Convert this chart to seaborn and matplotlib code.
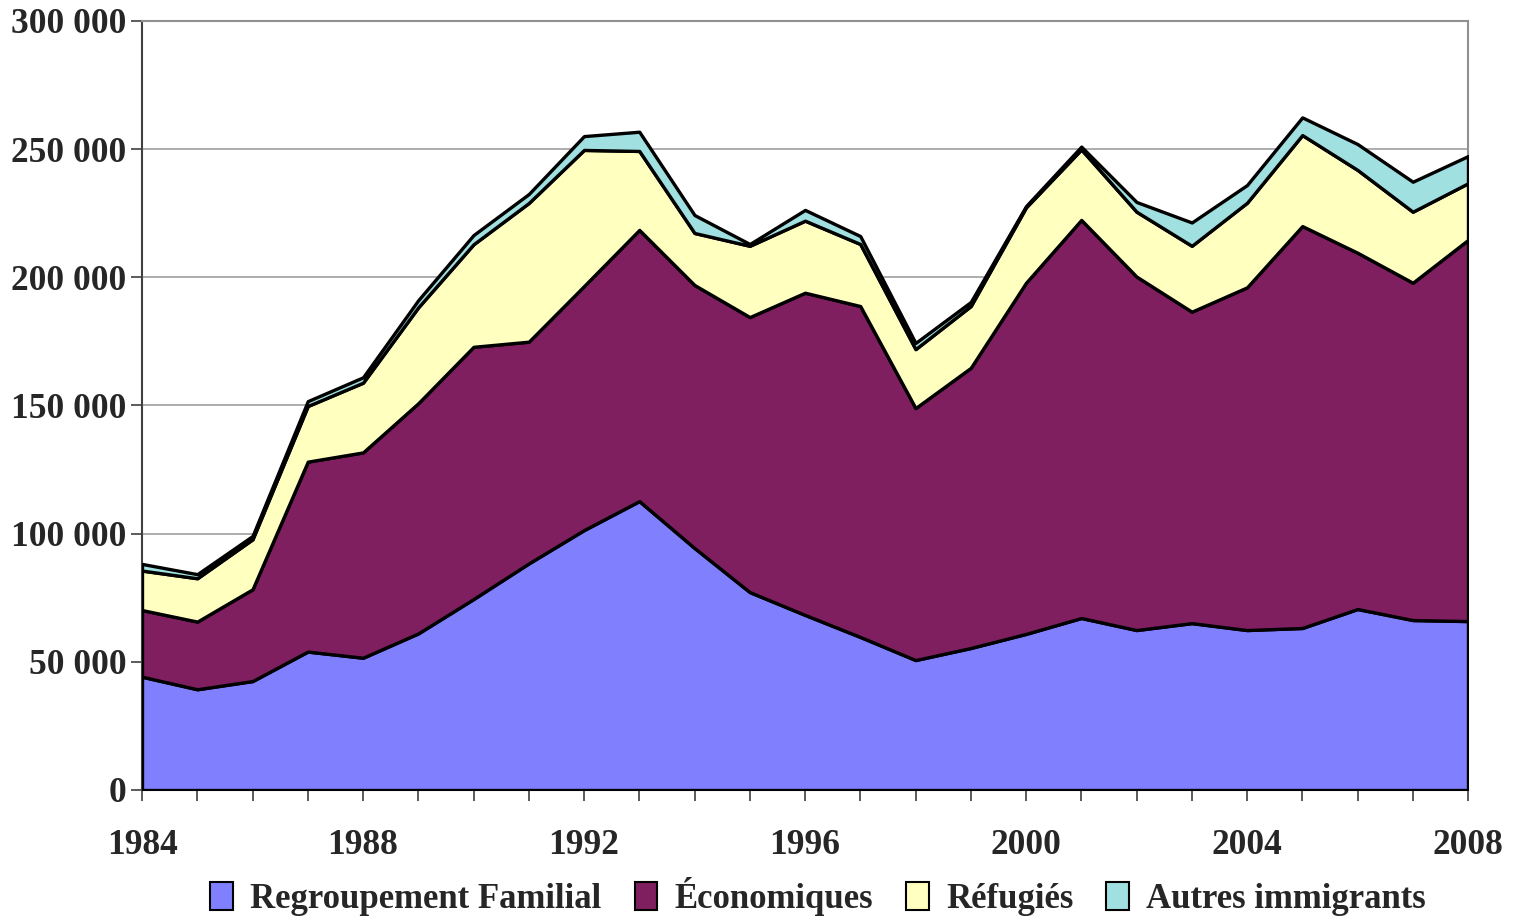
import matplotlib
matplotlib.use("Agg")
import matplotlib.pyplot as plt
import seaborn as sns
import numpy as np
from matplotlib.ticker import FuncFormatter, MultipleLocator
from matplotlib.patches import Patch

years = list(range(1984, 2009))
familial = [44200, 39300, 42500, 54000, 51600, 61100, 74500, 88400, 101400, 112700,
            94400, 77200, 68300, 59700, 50700, 55400, 60900, 67100, 62400, 65100,
            62400, 63200, 70600, 66300, 65900]
economiques = [26000, 26400, 35800, 74100, 80100, 89800, 98400, 86500, 95200, 105800,
               102600, 107300, 125700, 129100, 98300, 109300, 137000, 155300, 137900, 121500,
               133700, 156800, 139000, 131600, 148700]
refugies = [15400, 16900, 19500, 21700, 27200, 37400, 40000, 54100, 53100, 30800,
            20300, 27800, 28100, 24200, 23000, 24100, 29400, 27500, 25300, 25700,
            33000, 35500, 32300, 27700, 22100]
autres = [2600, 1600, 1300, 1900, 2100, 2800, 3600, 3500, 5400, 7500,
          7000, 700, 4200, 3100, 2400, 1600, 500, 1100, 3800, 9100,
          6900, 6900, 10100, 11700, 10600]
labels = ["Regroupement Familial", "Économiques", "Réfugiés", "Autres immigrants"]
colors = ["#8080FF", "#7F1F5F", "#FFFFC0", "#A0E0E0"]
xtick_labels = [1984, 1988, 1992, 1996, 2000, 2004, 2008]

sns.set_theme(style="white")
plt.rcParams['font.family'] = ['Liberation Serif', 'DejaVu Serif']
plt.rcParams['font.weight'] = 'bold'

fig = plt.figure(figsize=(15.18, 9.16), dpi=100)
ax = fig.add_axes([142/1518, 1-790/916, (1468-142)/1518, (790-21)/916])

ax.stackplot(years, familial, economiques, refugies, autres, colors=colors,
             edgecolor="black", linewidth=2.4, labels=labels, zorder=3)

ax.set_xlim(1984, 2008)
ax.set_ylim(0, 300000)
ax.yaxis.set_major_locator(MultipleLocator(50000))
ax.yaxis.set_major_formatter(FuncFormatter(lambda v, p: f"{int(v):,}".replace(",", " ")))
ax.set_xticks(years, minor=True)
ax.set_xticks(xtick_labels)
ax.set_xticklabels([str(y) for y in xtick_labels])
ax.grid(axis="y", color="#A0A0A0", linewidth=1.2, zorder=0)
ax.set_axisbelow(True)

for s in ["top", "right"]:
    ax.spines[s].set_color("#909090")
    ax.spines[s].set_linewidth(1.5)
for s in ["left", "bottom"]:
    ax.spines[s].set_color("#404040")
    ax.spines[s].set_linewidth(1.5)

ax.tick_params(axis="y", which="major", direction="out", length=8, width=1.2,
               color="#404040", labelsize=25.5, pad=3, left=True)
ax.tick_params(axis="x", which="both", direction="out", length=8, width=1.2,
               color="#404040", bottom=True)
ax.tick_params(axis="x", which="major", labelsize=25.5, pad=20)
for lab in ax.get_xticklabels() + ax.get_yticklabels():
    lab.set_fontweight("bold")

handles = [Patch(facecolor=c, edgecolor="black", linewidth=1.5) for c in colors]
fig.legend(handles, labels, loc="center", bbox_to_anchor=(0.539, 0.021), ncol=4,
           frameon=False, prop={"size": 25, "weight": "bold"},
           handlelength=0.65, handleheight=0.85, handletextpad=0.5, columnspacing=0.95)

fig.savefig("out.png", dpi=100)
